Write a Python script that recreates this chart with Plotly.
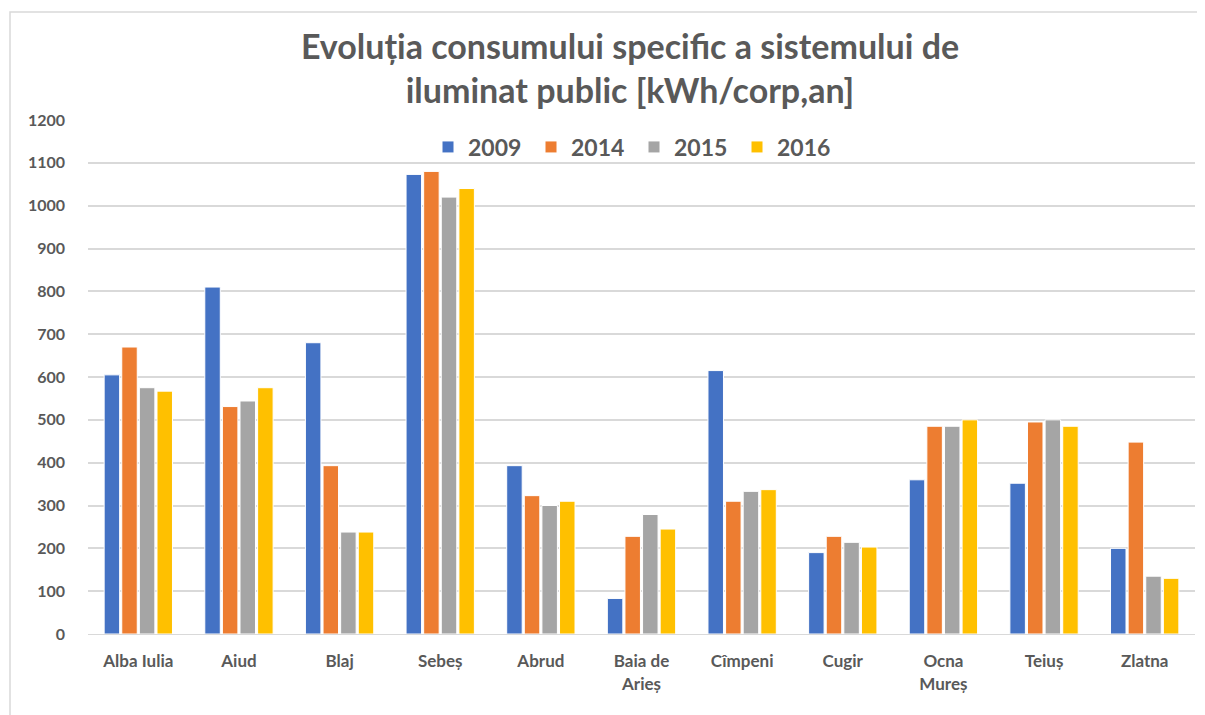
import plotly.graph_objects as go

categories = ["Alba Iulia", "Aiud", "Blaj", "Sebeș", "Abrud", "Baia de Arieș",
              "Cîmpeni", "Cugir", "Ocna Mureș", "Teiuș", "Zlatna"]
tick_labels = ["Alba Iulia", "Aiud", "Blaj", "Sebeș", "Abrud", "Baia de<br>Arieș",
               "Cîmpeni", "Cugir", "Ocna<br>Mureș", "Teiuș", "Zlatna"]
years = ["2009", "2014", "2015", "2016"]
v2009 = [605, 810, 680, 1073, 393, 83, 615, 190, 360, 352, 200]
v2014 = [670, 531, 393, 1080, 323, 228, 310, 228, 485, 495, 448]
v2015 = [575, 544, 238, 1020, 300, 279, 333, 214, 485, 500, 135]
v2016 = [567, 575, 238, 1040, 310, 245, 337, 203, 500, 485, 130]
colors = ["#4472C4", "#ED7D31", "#A5A5A5", "#FFC000"]

fig = go.Figure()
for name, vals, c in zip(years, [v2009, v2014, v2015, v2016], colors):
    fig.add_trace(go.Bar(x=categories, y=vals, name=name, marker_color=c,
                         marker_line=dict(color="white", width=1)))

# page body has an 8px margin, so the figure is drawn at (8, 8)
OFF = 8
W, H = 1205 - OFF, 715 - OFF
ml, mr, mt, mb = 88 - OFF, 10, 120 - OFF, 81
pw, ph = W - ml - mr, H - mt - mb

def px_x(p):
    return (p - OFF - ml) / pw

def px_y(p):
    return (H - mb - (p - OFF)) / ph

fig.update_layout(
    width=W, height=H,
    margin=dict(l=ml, r=mr, t=mt, b=mb),
    paper_bgcolor="white", plot_bgcolor="white",
    barmode="group", bargap=0.3, bargroupgap=0.12,
    title=dict(text="Evoluția consumului specific a sistemului de<br>iluminat public [kWh/corp,an]",
               x=px_x(630), xanchor="center", xref="paper", y=1 - (59 - OFF) / H, yanchor="middle",
               font=dict(family="Lato", size=34, color="#595959", weight="bold")),
    font=dict(family="Lato", color="#595959"),
    legend=dict(orientation="h", x=px_x(634), xanchor="center", y=px_y(147), yanchor="middle",
                font=dict(size=23, color="#595959", weight="bold"), itemwidth=30,
                entrywidth=58, bgcolor="rgba(0,0,0,0)", traceorder="normal"),
    showlegend=True,
)
fig.update_xaxes(tickvals=categories, ticktext=tick_labels, showgrid=False,
                 showline=True, linecolor="#d9d9d9", linewidth=1,
                 tickfont=dict(size=17, color="#595959", weight="bold"), ticks="",
                 ticklabelstandoff=12)
fig.update_yaxes(range=[0, 1200], dtick=100, showgrid=True, gridcolor="#d9d9d9",
                 gridwidth=1.5, zeroline=False, showline=False,
                 tickfont=dict(size=16, color="#595959", weight="bold"), ticks="",
                 ticklabelstandoff=22)
fig.add_shape(type="rect", xref="paper", yref="paper",
              x0=px_x(10), x1=px_x(1202), y0=px_y(718), y1=px_y(12),
              line=dict(color="#d9d9d9", width=1.5), layer="below")

fig.write_html("out.html")
